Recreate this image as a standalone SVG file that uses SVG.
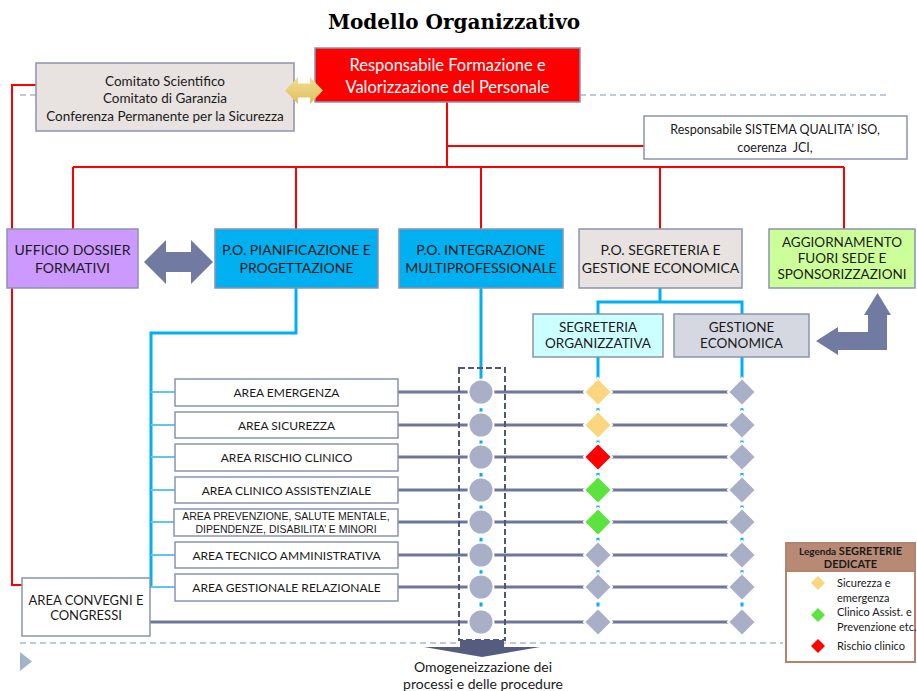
<svg xmlns="http://www.w3.org/2000/svg" width="917" height="691" viewBox="0 0 917 691">
<defs>
<style>
.box{stroke:#8A93B2;stroke-width:1.5}
.t{font-family:Lato,"Liberation Sans",sans-serif;fill:#1a1a1a;text-anchor:middle}
.a{font-size:12px}
.red{stroke:#FF0000;fill:none;stroke-width:2}
.blue{stroke:#00B0F0;fill:none;stroke-width:3}
.lb{stroke:#5CC8F2;fill:none;stroke-width:2}
.bd{stroke:#00B0F0;fill:none;stroke-width:3;stroke-dasharray:4 4.1}
.gray{stroke:#6F7699;stroke-width:3;fill:none}
.dash{stroke:#A9B8D0;stroke-width:1.5;stroke-dasharray:6 4;fill:none}
.c{fill:#A9AFC7;stroke:#fff;stroke-width:2}
.dg{fill:#A9AFC7;stroke:#fff;stroke-width:2}
.dy{fill:#FAD77F;stroke:#fff;stroke-width:2}
.dr{fill:#FF0000;stroke:#fff;stroke-width:2}
.dn{fill:#5BE33F;stroke:#fff;stroke-width:2}
</style>
<linearGradient id="gold" x1="0" y1="0" x2="0" y2="1">
<stop offset="0" stop-color="#F3DE90"/>
<stop offset="1" stop-color="#DCC060"/>
</linearGradient>
</defs>
<rect width="917" height="691" fill="#fff"/>

<text x="454" y="29" font-family="'DejaVu Serif','Liberation Serif',serif" font-weight="bold" font-size="20" text-anchor="middle" fill="#000">Modello Organizzativo</text>

<g id="connectors">
<path class="dash" d="M580,95 H887 M20,95 H36 M20,643 H783"/>
<path class="red" d="M447,102 V167 M73,167 H844 M73,167 V229 M296,167 V229 M481,167 V229 M660,167 V229 M844,167 V229 M36,85 H12 V585 H36"/>
<path class="red" stroke-width="3.5" d="M447,146 H644"/>
<path class="blue" d="M296,288 V333 H151 V588 M481,288 V380 M660,288 V302 M598,314 V302 H742 V314 M598,357 V380 M742,357 V380"/>
<path class="lb" d="M151,392 H175 M151,425 H175 M151,457 H175 M151,490 H175 M151,522 H175 M151,555 H175 M151,587 H175"/>
<path class="bd" d="M481,392 V622 M598,392 V622 M742,392 V622"/>
<path class="gray" d="M398,392 H742 M398,425 H742 M398,457 H742 M398,490 H742 M398,522 H742 M398,555 H742 M398,587 H742 M150,622 H742"/>
<path fill="#717BA1" d="M144,262 L166,240 L166,252 L191,252 L191,240 L213,262 L191,284 L191,272 L166,272 L166,284 Z"/>
<path fill="#717BA1" d="M816,341 L838,327 L838,332 L868,332 L868,315 L864,315 L877.5,293 L891,315 L887,315 L887,350 L838,350 L838,355 Z"/>
<rect x="459" y="368" width="46" height="272" fill="none" stroke="#4F5678" stroke-width="2" stroke-dasharray="6 3"/>
<path fill="#555C80" d="M460,640 H504 V647 H540 L482,657 L424,647 H460 Z"/>
</g>

<g id="responsabile">
<rect class="box" x="315" y="48" width="265" height="54" fill="#FF0000"/>
<text class="t" x="447.5" y="71" font-size="16.5" style="fill:#fff">Responsabile Formazione e</text>
<text class="t" x="447.5" y="93" font-size="16.5" style="fill:#fff">Valorizzazione del Personale</text>
</g>

<g id="comitato">
<rect class="box" x="36" y="63" width="258" height="68" fill="#E8E3E0"/>
<text class="t" x="165" y="85.5" font-size="13.5">Comitato Scientifico</text>
<text class="t" x="165" y="103" font-size="13.5">Comitato di Garanzia</text>
<text class="t" x="165" y="120.5" font-size="13.5">Conferenza Permanente per la Sicurezza</text>
</g>

<g id="gold-arrow">
<path fill="url(#gold)" d="M285,90.5 L298,77 L298,83.5 L310,83.5 L310,77 L323,90.5 L310,104 L310,97.5 L298,97.5 L298,104 Z"/>
</g>

<g id="qualita">
<rect class="box" x="644" y="116" width="263" height="43" fill="#fff"/>
<text class="t" x="775" y="133.5" font-size="12.5">Responsabile SISTEMA QUALITA’ ISO,</text>
<text class="t" x="775" y="152" font-size="12.5">coerenza&#160; JCI,</text>
</g>

<g id="ufficio">
<rect class="box" x="7" y="229" width="131" height="59" fill="#CC99FF"/>
<text class="t" x="72.5" y="255" font-size="14">UFFICIO DOSSIER</text>
<text class="t" x="72.5" y="273" font-size="14">FORMATIVI</text>
</g>

<g id="pianificazione">
<rect class="box" x="215" y="229" width="163" height="59" fill="#00B0F0"/>
<text class="t" x="296.5" y="255" font-size="14">P.O. PIANIFICAZIONE E</text>
<text class="t" x="296.5" y="273" font-size="14">PROGETTAZIONE</text>
</g>

<g id="integrazione">
<rect class="box" x="399" y="229" width="164" height="59" fill="#00B0F0"/>
<text class="t" x="481" y="255" font-size="14">P.O. INTEGRAZIONE</text>
<text class="t" x="481" y="273" font-size="14">MULTIPROFESSIONALE</text>
</g>

<g id="segreteria">
<rect class="box" x="579" y="229" width="163" height="59" fill="#E8E3E0"/>
<text class="t" x="660.5" y="255" font-size="14">P.O. SEGRETERIA E</text>
<text class="t" x="660.5" y="273" font-size="14">GESTIONE ECONOMICA</text>
</g>

<g id="aggiornamento">
<rect class="box" x="769" y="229" width="146" height="59" fill="#CCFF99"/>
<text class="t" x="842" y="247" font-size="13.5">AGGIORNAMENTO</text>
<text class="t" x="842" y="263" font-size="13.5">FUORI SEDE E</text>
<text class="t" x="842" y="279" font-size="13.5">SPONSORIZZAZIONI</text>
</g>

<g id="segr-org">
<rect class="box" x="533" y="314" width="130" height="43" fill="#CCFFFF"/>
<text class="t" x="598" y="332" font-size="13.5">SEGRETERIA</text>
<text class="t" x="598" y="348" font-size="13.5">ORGANIZZATIVA</text>
</g>

<g id="gest-eco">
<rect class="box" x="674" y="314" width="135" height="43" fill="#D6D8E1"/>
<text class="t" x="741.5" y="332" font-size="13.5">GESTIONE</text>
<text class="t" x="741.5" y="348" font-size="13.5">ECONOMICA</text>
</g>

<g id="area-emergenza">
<rect class="box" x="175" y="379" width="223" height="27" fill="#fff"/>
<text class="t a" x="286.5" y="396.5">AREA EMERGENZA</text>
</g>
<g id="area-sicurezza">
<rect class="box" x="175" y="412" width="223" height="26" fill="#fff"/>
<text class="t a" x="286.5" y="429.5">AREA SICUREZZA</text>
</g>
<g id="area-rischio">
<rect class="box" x="175" y="444" width="223" height="27" fill="#fff"/>
<text class="t a" x="286.5" y="461.5">AREA RISCHIO CLINICO</text>
</g>
<g id="area-clinico">
<rect class="box" x="175" y="477" width="223" height="26" fill="#fff"/>
<text class="t a" x="286.5" y="494.5">AREA CLINICO ASSISTENZIALE</text>
</g>
<g id="area-prevenzione">
<rect class="box" x="174" y="509" width="224" height="27" fill="#fff"/>
<text x="286" y="520" font-family="'Liberation Sans',Arial,sans-serif" font-size="10.5" text-anchor="middle" fill="#1a1a1a">AREA PREVENZIONE, SALUTE MENTALE,</text>
<text x="286" y="533" font-family="'Liberation Sans',Arial,sans-serif" font-size="10.5" text-anchor="middle" fill="#1a1a1a">DIPENDENZE, DISABILITA’ E MINORI</text>
</g>
<g id="area-tecnico">
<rect class="box" x="175" y="542" width="223" height="26" fill="#fff"/>
<text class="t a" x="286.5" y="559.5">AREA TECNICO AMMINISTRATIVA</text>
</g>
<g id="area-gestionale">
<rect class="box" x="175" y="574" width="223" height="27" fill="#fff"/>
<text class="t a" x="286.5" y="591.5">AREA GESTIONALE RELAZIONALE</text>
</g>

<g id="area-convegni">
<rect class="box" x="22" y="578" width="128" height="58" fill="#fff"/>
<text class="t" x="86" y="604.5" font-size="13">AREA CONVEGNI E</text>
<text class="t" x="86" y="619.5" font-size="13">CONGRESSI</text>
</g>

<g id="matrix">
<circle class="c" cx="481" cy="392" r="12.5"/>
<circle class="c" cx="481" cy="425" r="12.5"/>
<circle class="c" cx="481" cy="457" r="12.5"/>
<circle class="c" cx="481" cy="490" r="12.5"/>
<circle class="c" cx="481" cy="522" r="12.5"/>
<circle class="c" cx="481" cy="555" r="12.5"/>
<circle class="c" cx="481" cy="587" r="12.5"/>
<circle class="c" cx="481" cy="622" r="12.5"/>
<path class="dy" d="M598,378 L612,392 L598,406 L584,392 Z"/>
<path class="dy" d="M598,411 L612,425 L598,439 L584,425 Z"/>
<path class="dr" d="M598,443 L612,457 L598,471 L584,457 Z"/>
<path class="dn" d="M598,476 L612,490 L598,504 L584,490 Z"/>
<path class="dn" d="M598,508 L612,522 L598,536 L584,522 Z"/>
<path class="dg" d="M598,541 L612,555 L598,569 L584,555 Z"/>
<path class="dg" d="M598,573 L612,587 L598,601 L584,587 Z"/>
<path class="dg" d="M598,608 L612,622 L598,636 L584,622 Z"/>
<path class="dg" d="M742,378 L756,392 L742,406 L728,392 Z"/>
<path class="dg" d="M742,411 L756,425 L742,439 L728,425 Z"/>
<path class="dg" d="M742,443 L756,457 L742,471 L728,457 Z"/>
<path class="dg" d="M742,476 L756,490 L742,504 L728,490 Z"/>
<path class="dg" d="M742,508 L756,522 L742,536 L728,522 Z"/>
<path class="dg" d="M742,541 L756,555 L742,569 L728,555 Z"/>
<path class="dg" d="M742,573 L756,587 L742,601 L728,587 Z"/>
<path class="dg" d="M742,608 L756,622 L742,636 L728,622 Z"/>
</g>

<g id="omogeneizzazione">
<text class="t" x="483" y="672" font-size="14">Omogeneizzazione dei</text>
<text class="t" x="483" y="689" font-size="14">processi e delle procedure</text>
</g>

<path fill="#A0B4CC" d="M20,652 L32,661.5 L20,671 Z"/>

<g id="legenda">
<rect x="786" y="543" width="129" height="119" fill="#fff" stroke="#B5826F" stroke-width="2"/>
<rect x="786" y="543" width="129" height="28" fill="#B88A75" stroke="#B5826F" stroke-width="2"/>
<text class="t" x="850.5" y="555" font-size="11" font-weight="bold"><tspan font-size="10">Legenda</tspan> SEGRETERIE</text>
<text class="t" x="850.5" y="567.5" font-size="11" font-weight="bold">DEDICATE</text>
<path fill="#FAD77F" d="M818,576 L825,583 L818,590 L811,583 Z"/>
<path fill="#5BE33F" d="M818,608 L825,615 L818,622 L811,615 Z"/>
<path fill="#FF0000" d="M818,639 L825,646 L818,653 L811,646 Z"/>
<text x="837" y="587" font-family="Lato,'Liberation Sans',sans-serif" font-size="11" fill="#1a1a1a">Sicurezza e</text>
<text x="837" y="602" font-family="Lato,'Liberation Sans',sans-serif" font-size="11" fill="#1a1a1a">emergenza</text>
<text x="837" y="616" font-family="Lato,'Liberation Sans',sans-serif" font-size="11" fill="#1a1a1a">Clinico Assist. e</text>
<text x="837" y="631" font-family="Lato,'Liberation Sans',sans-serif" font-size="11" fill="#1a1a1a">Prevenzione etc.</text>
<text x="837" y="650" font-family="Lato,'Liberation Sans',sans-serif" font-size="11" fill="#1a1a1a">Rischio clinico</text>
</g>
</svg>
